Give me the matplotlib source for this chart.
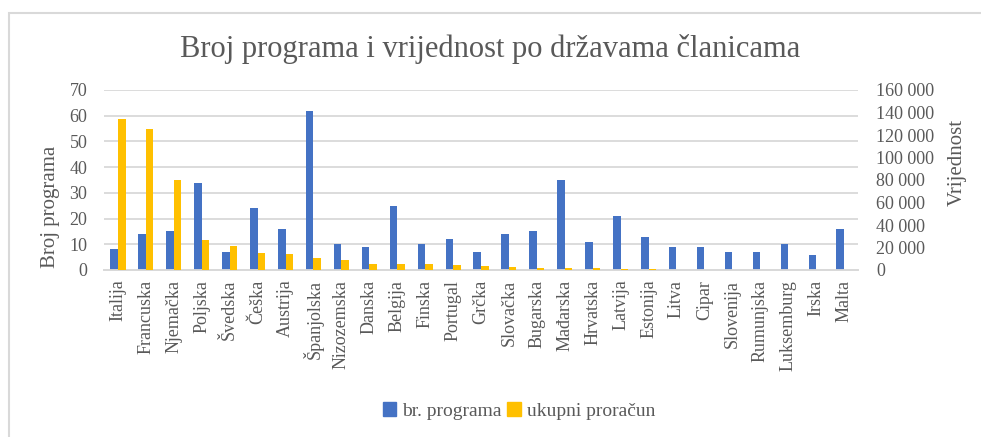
import numpy as np
import matplotlib
matplotlib.use('Agg')
from matplotlib import pyplot as plt
from matplotlib import patches
from matplotlib.ticker import FuncFormatter

countries = ['Italija', 'Francuska', 'Njemačka', 'Poljska', 'Švedska', 'Češka',
             'Austrija', 'Španjolska', 'Nizozemska', 'Danska', 'Belgija', 'Finska',
             'Portugal', 'Grčka', 'Slovačka', 'Bugarska', 'Mađarska', 'Hrvatska',
             'Latvija', 'Estonija', 'Litva', 'Cipar', 'Slovenija', 'Rumunjska',
             'Luksemburg', 'Irska', 'Malta']
br_programa = [8, 14, 15, 34, 7, 24, 16, 62, 10, 9, 25, 10, 12, 7, 14, 15, 35, 11,
               21, 13, 9, 9, 7, 7, 10, 6, 16]
ukupni_proracun = [134000, 125500, 80000, 26500, 21300, 15100, 14200, 10700, 8900,
                   5300, 5300, 5300, 4400, 3500, 2700, 1800, 1800, 1800, 500, 500,
                   300, 200, 0, 0, 0, 0, 0]

BLUE = '#4472c4'
GOLD = '#ffc000'
TEXT = '#595959'
GRID = '#d9d9d9'
FONT = 'Liberation Serif'

plt.rcParams['font.family'] = FONT

fig = plt.figure(figsize=(9.81, 4.37), dpi=100)
W, H = 981, 437

# chart frame (right and bottom edges fall outside the picture)
frame = patches.Rectangle((9 / W, -0.05), 1.05, 1 - 13 / H + 0.05, transform=fig.transFigure,
                          fill=False, edgecolor=GRID, lw=1.5, clip_on=False)
fig.patches.append(frame)

ax = fig.add_axes([104 / W, 167 / H, 754 / W, 180 / H])
ax2 = ax.twinx()

x = np.arange(len(countries))
w = 0.27
ax.bar(x - w / 2, br_programa, width=w, color=BLUE, zorder=3)
ax2.bar(x + w / 2, ukupni_proracun, width=w, color=GOLD, zorder=3)

ax.set_xlim(-0.5, len(countries) - 0.5)
ax.set_ylim(0, 70)
ax.set_yticks(np.arange(0, 71, 10))
ax2.set_ylim(0, 160000)
ax2.set_yticks(np.arange(0, 160001, 20000))
ax2.yaxis.set_major_formatter(FuncFormatter(lambda v, p: f'{int(v):,}'.replace(',', ' ')))

ax.set_xticks(x)
ax.set_xticklabels(countries, rotation=90, fontsize=13, color=TEXT)
ax.tick_params(axis='x', length=0, pad=7)
ax.tick_params(axis='y', length=0, pad=12, labelsize=13, labelcolor=TEXT)
ax2.tick_params(axis='y', length=0, pad=13, labelsize=13, labelcolor=TEXT)

ax.grid(axis='y', color=GRID, lw=1.3, zorder=0)
for a in (ax, ax2):
    for s in ('top', 'left', 'right'):
        a.spines[s].set_visible(False)
    a.spines['bottom'].set_color(GRID)
    a.spines['bottom'].set_linewidth(1.3)

ax.set_ylabel('Broj programa', fontsize=15, color=TEXT, va='center')
ax.yaxis.set_label_coords(-0.071, 0.35)
ax2.set_ylabel('Vrijednost', fontsize=15, color=TEXT, rotation=90, va='center')
ax2.yaxis.set_label_coords(1.132, 0.6)

fig.text(0.5, 1 - 49 / H, 'Broj programa i vrijednost po državama članicama',
         ha='center', va='center', fontsize=22, color=TEXT)

handles = [patches.Patch(color=BLUE), patches.Patch(color=GOLD)]
fig.legend(handles, ['br. programa', 'ukupni proračun'], loc='center',
           bbox_to_anchor=(519 / W, 1 - 411 / H), ncol=2, frameon=False,
           fontsize=14, labelcolor=TEXT, handlelength=0.7, handleheight=0.7,
           handletextpad=0.3, columnspacing=0.3)

fig.savefig('out.png', dpi=100)
